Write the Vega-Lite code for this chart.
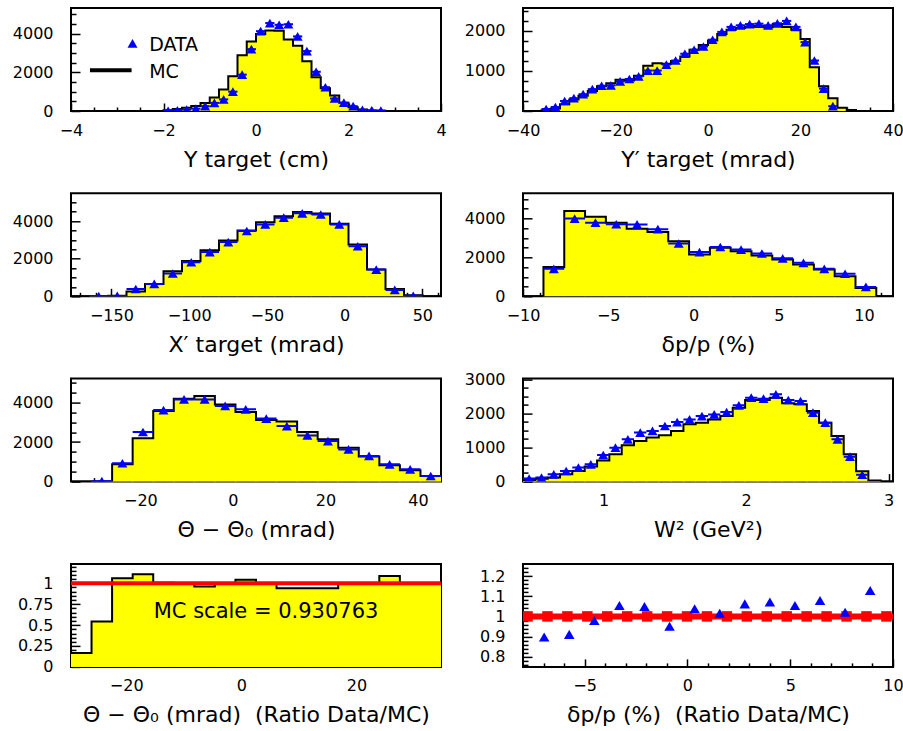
{
"$schema": "https://vega.github.io/schema/vega-lite/v6.json",
"background": "white",
"autosize": {"type": "pad"},
"padding": {"left": 11, "top": 7, "right": 0, "bottom": 0},
"bounds": "flush",
"columns": 2,
"spacing": {"row": 82.3, "column": 82},
"datasets": {
"p1": [
{"a":-2.2,"b":-2.0,"c":-2.1,"mc":0,"d":null},
{"a":-2.0,"b":-1.8,"c":-1.9,"mc":40,"d":15},
{"a":-1.8,"b":-1.6,"c":-1.7,"mc":100,"d":40},
{"a":-1.6,"b":-1.4,"c":-1.5,"mc":170,"d":70},
{"a":-1.4,"b":-1.2,"c":-1.3,"mc":260,"d":120},
{"a":-1.2,"b":-1.0,"c":-1.1,"mc":415,"d":250},
{"a":-1.0,"b":-0.8,"c":-0.9,"mc":700,"d":420},
{"a":-0.8,"b":-0.6,"c":-0.7,"mc":1110,"d":600},
{"a":-0.6,"b":-0.4,"c":-0.5,"mc":1800,"d":1000},
{"a":-0.4,"b":-0.2,"c":-0.3,"mc":2880,"d":1880},
{"a":-0.2,"b":0,"c":-0.1,"mc":3600,"d":3200},
{"a":0,"b":0.2,"c":0.1,"mc":3980,"d":4130},
{"a":0.2,"b":0.4,"c":0.3,"mc":4160,"d":4550},
{"a":0.4,"b":0.6,"c":0.5,"mc":4150,"d":4460},
{"a":0.6,"b":0.8,"c":0.7,"mc":3700,"d":4490},
{"a":0.8,"b":1.0,"c":0.9,"mc":3380,"d":3860},
{"a":1.0,"b":1.2,"c":1.1,"mc":2580,"d":3100},
{"a":1.2,"b":1.4,"c":1.3,"mc":1750,"d":2030},
{"a":1.4,"b":1.6,"c":1.5,"mc":1180,"d":1230},
{"a":1.6,"b":1.8,"c":1.7,"mc":800,"d":645},
{"a":1.8,"b":2.0,"c":1.9,"mc":430,"d":430},
{"a":2.0,"b":2.2,"c":2.1,"mc":200,"d":250},
{"a":2.2,"b":2.4,"c":2.3,"mc":80,"d":60},
{"a":2.4,"b":2.6,"c":2.5,"mc":30,"d":30},
{"a":2.6,"b":2.8,"c":2.7,"mc":10,"d":20},
{"a":2.8,"b":3.0,"c":2.9,"mc":0,"d":null}
],
"p2": [
{"a":-38,"b":-36,"c":-37,"mc":0,"d":null},
{"a":-36,"b":-34,"c":-35,"mc":20,"d":50},
{"a":-34,"b":-32,"c":-33,"mc":60,"d":100},
{"a":-32,"b":-30,"c":-31,"mc":170,"d":250},
{"a":-30,"b":-28,"c":-29,"mc":290,"d":320},
{"a":-28,"b":-26,"c":-27,"mc":380,"d":420},
{"a":-26,"b":-24,"c":-25,"mc":500,"d":546},
{"a":-24,"b":-22,"c":-23,"mc":620,"d":630},
{"a":-22,"b":-20,"c":-21,"mc":690,"d":640},
{"a":-20,"b":-18,"c":-19,"mc":780,"d":740},
{"a":-18,"b":-16,"c":-17,"mc":760,"d":800},
{"a":-16,"b":-14,"c":-15,"mc":880,"d":865},
{"a":-14,"b":-12,"c":-13,"mc":1130,"d":1010},
{"a":-12,"b":-10,"c":-11,"mc":1190,"d":1010},
{"a":-10,"b":-8,"c":-9,"mc":1180,"d":1160},
{"a":-8,"b":-6,"c":-7,"mc":1250,"d":1260},
{"a":-6,"b":-4,"c":-5,"mc":1360,"d":1430},
{"a":-4,"b":-2,"c":-3,"mc":1530,"d":1530},
{"a":-2,"b":0,"c":-1,"mc":1650,"d":1610},
{"a":0,"b":2,"c":1,"mc":1760,"d":1780},
{"a":2,"b":4,"c":3,"mc":1920,"d":1975},
{"a":4,"b":6,"c":5,"mc":2030,"d":2100},
{"a":6,"b":8,"c":7,"mc":2070,"d":2140},
{"a":8,"b":10,"c":9,"mc":2110,"d":2170},
{"a":10,"b":12,"c":11,"mc":2120,"d":2180},
{"a":12,"b":14,"c":13,"mc":2090,"d":2140},
{"a":14,"b":16,"c":15,"mc":2170,"d":2190},
{"a":16,"b":18,"c":17,"mc":2100,"d":2250},
{"a":18,"b":20,"c":19,"mc":2030,"d":2100},
{"a":20,"b":22,"c":21,"mc":1800,"d":1720},
{"a":22,"b":24,"c":23,"mc":1090,"d":1260},
{"a":24,"b":26,"c":25,"mc":620,"d":560},
{"a":26,"b":28,"c":27,"mc":320,"d":120},
{"a":28,"b":30,"c":29,"mc":84,"d":null},
{"a":30,"b":32,"c":31,"mc":25,"d":null},
{"a":32,"b":34,"c":33,"mc":0,"d":null}
],
"p3": [
{"a":-176,"b":-164.1,"c":-170.05,"mc":0,"d":null},
{"a":-164.1,"b":-152.2,"c":-158.15,"mc":5,"d":10},
{"a":-152.2,"b":-140.3,"c":-146.25,"mc":30,"d":20},
{"a":-140.3,"b":-128.4,"c":-134.35,"mc":260,"d":390},
{"a":-128.4,"b":-116.5,"c":-122.45,"mc":660,"d":660},
{"a":-116.5,"b":-104.6,"c":-110.55,"mc":1330,"d":1210},
{"a":-104.6,"b":-92.7,"c":-98.65,"mc":1870,"d":1810},
{"a":-92.7,"b":-80.8,"c":-86.75,"mc":2450,"d":2350},
{"a":-80.8,"b":-68.9,"c":-74.85,"mc":2970,"d":2880},
{"a":-68.9,"b":-57,"c":-62.95,"mc":3500,"d":3470},
{"a":-57,"b":-45.1,"c":-51.05,"mc":3940,"d":3820},
{"a":-45.1,"b":-33.2,"c":-39.15,"mc":4260,"d":4180},
{"a":-33.2,"b":-21.3,"c":-27.25,"mc":4480,"d":4410},
{"a":-21.3,"b":-9.4,"c":-15.35,"mc":4400,"d":4350},
{"a":-9.4,"b":2.5,"c":-3.45,"mc":3860,"d":3820},
{"a":2.5,"b":14.4,"c":8.45,"mc":2760,"d":2660},
{"a":14.4,"b":26.3,"c":20.35,"mc":1420,"d":1420},
{"a":26.3,"b":38.2,"c":32.25,"mc":390,"d":340},
{"a":38.2,"b":50.1,"c":44.15,"mc":60,"d":30},
{"a":50.1,"b":62,"c":56.05,"mc":0,"d":null}
],
"p4": [
{"a":-10.02,"b":-8.8,"c":-9.41,"mc":0,"d":null},
{"a":-8.8,"b":-7.58,"c":-8.19,"mc":1510,"d":1410},
{"a":-7.58,"b":-6.36,"c":-6.97,"mc":4380,"d":3990},
{"a":-6.36,"b":-5.14,"c":-5.75,"mc":4090,"d":3780},
{"a":-5.14,"b":-3.92,"c":-4.53,"mc":3780,"d":3700},
{"a":-3.92,"b":-2.7,"c":-3.31,"mc":3470,"d":3690},
{"a":-2.7,"b":-1.48,"c":-2.09,"mc":3300,"d":3450},
{"a":-1.48,"b":-0.26,"c":-0.87,"mc":2830,"d":2710},
{"a":-0.26,"b":0.96,"c":0.35,"mc":2150,"d":2270},
{"a":0.96,"b":2.18,"c":1.57,"mc":2490,"d":2530},
{"a":2.18,"b":3.4,"c":2.79,"mc":2320,"d":2400},
{"a":3.4,"b":4.62,"c":4.01,"mc":2100,"d":2200},
{"a":4.62,"b":5.84,"c":5.23,"mc":1890,"d":1950},
{"a":5.84,"b":7.06,"c":6.45,"mc":1630,"d":1720},
{"a":7.06,"b":8.28,"c":7.67,"mc":1380,"d":1410},
{"a":8.28,"b":9.5,"c":8.89,"mc":1030,"d":1160},
{"a":9.5,"b":10.72,"c":10.11,"mc":430,"d":480},
{"a":10.72,"b":11.94,"c":11.33,"mc":0,"d":null}
],
"p5": [
{"a":-35,"b":-30.56,"c":-32.78,"mc":0,"d":null},
{"a":-30.56,"b":-26.11,"c":-28.33,"mc":10,"d":20},
{"a":-26.11,"b":-21.67,"c":-23.89,"mc":875,"d":930},
{"a":-21.67,"b":-17.22,"c":-19.44,"mc":2190,"d":2510},
{"a":-17.22,"b":-12.78,"c":-15,"mc":3570,"d":3620},
{"a":-12.78,"b":-8.33,"c":-10.56,"mc":4200,"d":4160},
{"a":-8.33,"b":-3.89,"c":-6.11,"mc":4330,"d":4160},
{"a":-3.89,"b":0.56,"c":-1.67,"mc":3910,"d":3830},
{"a":0.56,"b":5,"c":2.78,"mc":3520,"d":3660},
{"a":5,"b":9.44,"c":7.22,"mc":3120,"d":3190},
{"a":9.44,"b":13.89,"c":11.67,"mc":3040,"d":2810},
{"a":13.89,"b":18.33,"c":16.11,"mc":2510,"d":2340},
{"a":18.33,"b":22.78,"c":20.56,"mc":2140,"d":2050},
{"a":22.78,"b":27.22,"c":25,"mc":1720,"d":1630},
{"a":27.22,"b":31.67,"c":29.44,"mc":1265,"d":1300},
{"a":31.67,"b":36.11,"c":33.89,"mc":825,"d":875},
{"a":36.11,"b":40.56,"c":38.33,"mc":572,"d":620},
{"a":40.56,"b":45,"c":42.78,"mc":283,"d":283}
],
"p6": [
{"a":0.434,"b":0.521,"c":0.477,"mc":50,"d":88},
{"a":0.521,"b":0.607,"c":0.564,"mc":80,"d":117},
{"a":0.607,"b":0.694,"c":0.65,"mc":117,"d":214},
{"a":0.694,"b":0.78,"c":0.737,"mc":214,"d":311},
{"a":0.78,"b":0.867,"c":0.823,"mc":311,"d":410},
{"a":0.867,"b":0.954,"c":0.91,"mc":440,"d":507},
{"a":0.954,"b":1.04,"c":0.997,"mc":620,"d":780},
{"a":1.04,"b":1.127,"c":1.083,"mc":800,"d":996},
{"a":1.127,"b":1.213,"c":1.17,"mc":1066,"d":1239},
{"a":1.213,"b":1.3,"c":1.257,"mc":1193,"d":1436},
{"a":1.3,"b":1.387,"c":1.343,"mc":1290,"d":1485},
{"a":1.387,"b":1.473,"c":1.43,"mc":1357,"d":1629},
{"a":1.473,"b":1.56,"c":1.516,"mc":1485,"d":1746},
{"a":1.56,"b":1.646,"c":1.603,"mc":1680,"d":1824},
{"a":1.646,"b":1.733,"c":1.69,"mc":1727,"d":1922},
{"a":1.733,"b":1.819,"c":1.776,"mc":1824,"d":1971},
{"a":1.819,"b":1.906,"c":1.863,"mc":1922,"d":2039},
{"a":1.906,"b":1.993,"c":1.949,"mc":2168,"d":2236},
{"a":1.993,"b":2.079,"c":2.036,"mc":2393,"d":2461},
{"a":2.079,"b":2.166,"c":2.122,"mc":2393,"d":2432},
{"a":2.166,"b":2.252,"c":2.209,"mc":2461,"d":2558},
{"a":2.252,"b":2.339,"c":2.296,"mc":2295,"d":2393},
{"a":2.339,"b":2.426,"c":2.382,"mc":2266,"d":2363},
{"a":2.426,"b":2.512,"c":2.469,"mc":2070,"d":2021},
{"a":2.512,"b":2.599,"c":2.556,"mc":1727,"d":1727},
{"a":2.599,"b":2.685,"c":2.642,"mc":1336,"d":1239},
{"a":2.685,"b":2.772,"c":2.729,"mc":800,"d":732},
{"a":2.772,"b":2.858,"c":2.815,"mc":300,"d":200},
{"a":2.858,"b":2.945,"c":2.902,"mc":30,"d":null},
{"a":2.945,"b":3.031,"c":2.988,"mc":0,"d":null}
],
"p7": [
{"a":-29.6,"b":-26.03,"r":0.167},
{"a":-26.03,"b":-22.46,"r":0.543},
{"a":-22.46,"b":-18.88,"r":1.06},
{"a":-18.88,"b":-15.31,"r":1.107},
{"a":-15.31,"b":-11.74,"r":1.005},
{"a":-11.74,"b":-8.17,"r":0.995},
{"a":-8.17,"b":-4.6,"r":0.96},
{"a":-4.6,"b":-1.02,"r":0.99},
{"a":-1.02,"b":2.55,"r":1.04},
{"a":2.55,"b":6.12,"r":1.0},
{"a":6.12,"b":9.69,"r":0.94},
{"a":9.69,"b":13.26,"r":0.94},
{"a":13.26,"b":16.84,"r":0.94},
{"a":16.84,"b":20.41,"r":1.0},
{"a":20.41,"b":23.98,"r":0.995},
{"a":23.98,"b":27.55,"r":1.087},
{"a":27.55,"b":31.12,"r":1.0},
{"a":31.12,"b":34.7,"r":1.0}
],
"p8": [
{"c":-6.97,"r":0.898},
{"c":-5.75,"r":0.911},
{"c":-4.53,"r":0.98},
{"c":-3.31,"r":1.054},
{"c":-2.09,"r":1.049},
{"c":-0.87,"r":0.951},
{"c":0.35,"r":1.038},
{"c":1.57,"r":1.016},
{"c":2.79,"r":1.062},
{"c":4.01,"r":1.071},
{"c":5.23,"r":1.054},
{"c":6.45,"r":1.079},
{"c":7.67,"r":1.021},
{"c":8.89,"r":1.128}
],
"p8sq": [
{"x":-7.78,"v":1},{"x":-6.81,"v":1},{"x":-5.84,"v":1},{"x":-4.87,"v":1},{"x":-3.9,"v":1},
{"x":-2.93,"v":1},{"x":-1.96,"v":1},{"x":-0.99,"v":1},{"x":-0.02,"v":1},{"x":0.95,"v":1},
{"x":1.92,"v":1},{"x":2.89,"v":1},{"x":3.86,"v":1},{"x":4.83,"v":1},{"x":5.8,"v":1},
{"x":6.77,"v":1},{"x":7.74,"v":1},{"x":8.71,"v":1},{"x":9.68,"v":1}
],
"one": [{"v":1}],
"p7txt": [{"x":4.3,"y":0.65,"t":"MC scale = 0.930763"}],
"legtri": [{"x":-2.67,"y":3500}],
"legtxt": [{"x":-2.31,"y":3420,"t":"DATA"},{"x":-2.31,"y":2030,"t":"MC"}],
"legline": [{"x0":-3.59,"x1":-2.69,"y":2110}]
},
"concat": [
{"width":370,"height":103,
"resolve":{"axis":{"x":"independent","y":"independent"}},
"layer":[
{"data":{"name":"p1"},"transform":[{"filter":"datum.mc > 0"}],"mark":{"type":"rect","color":"#ffff00","stroke":"#ffff00","strokeWidth":1,"clip":true},
"encoding":{"x":{"field":"a","type":"quantitative","scale":{"domain":[-4,4],"nice":false,"zero":false},"axis":{"orient":"bottom","values":[-4,-2,0,2,4],"tickSize":-8,"labelPadding":19,"title":"Y target (cm)","titlePadding":11}},"x2":{"field":"b"},
"y":{"field":"mc","type":"quantitative","scale":{"domain":[0,5330],"nice":false,"zero":false},"axis":{"orient":"left","values":[0,2000,4000],"tickSize":-9,"labelPadding":27,"title":null}},"y2":{"datum":0}}},
{"data":{"name":"p1"},"transform":[{"fold":["a","b"],"as":["edge","ex"]}],"mark":{"type":"line","color":"black","strokeWidth":2,"clip":true},
"encoding":{"x":{"field":"ex","type":"quantitative","scale":{"domain":[-4,4],"nice":false,"zero":false},"axis":{"orient":"bottom","values":[-3.5,-3,-2.5,-1.5,-1,-0.5,0.5,1,1.5,2.5,3,3.5],"tickSize":-4,"labels":false,"title":null}},
"y":{"field":"mc","type":"quantitative","scale":{"domain":[0,5330],"nice":false,"zero":false},"axis":{"orient":"left","values":[500,1000,1500,2500,3000,3500,4500,5000],"tickSize":-5,"labels":false,"title":null}},
"order":[{"field":"ex","type":"quantitative"},{"field":"edge","type":"nominal","sort":"descending"}]}},
{"data":{"name":"p1"},"transform":[{"filter":"datum.d != null"}],"mark":{"type":"rule","color":"#0000ff","strokeWidth":2,"clip":true},
"encoding":{"x":{"field":"a","type":"quantitative","scale":{"domain":[-4,4],"nice":false,"zero":false},"axis":null},"x2":{"field":"b"},"y":{"field":"d","type":"quantitative","scale":{"domain":[0,5330],"nice":false,"zero":false},"axis":null}}},
{"data":{"name":"p1"},"transform":[{"filter":"datum.d != null"}],"mark":{"type":"point","shape":"triangle-up","filled":true,"color":"#0000ff","size":100,"opacity":1,"clip":true},
"encoding":{"x":{"field":"c","type":"quantitative","scale":{"domain":[-4,4],"nice":false,"zero":false},"axis":null},"y":{"field":"d","type":"quantitative","scale":{"domain":[0,5330],"nice":false,"zero":false},"axis":null}}},
{"data":{"name":"legtri"},"mark":{"type":"point","shape":"triangle-up","filled":true,"color":"#0000ff","size":100,"opacity":1},
"encoding":{"x":{"field":"x","type":"quantitative","scale":{"domain":[-4,4],"nice":false,"zero":false},"axis":null},"y":{"field":"y","type":"quantitative","scale":{"domain":[0,5330],"nice":false,"zero":false},"axis":null}}},
{"data":{"name":"legline"},"mark":{"type":"rule","color":"black","strokeWidth":4},
"encoding":{"x":{"field":"x0","type":"quantitative","scale":{"domain":[-4,4],"nice":false,"zero":false},"axis":null},"x2":{"field":"x1"},"y":{"field":"y","type":"quantitative","scale":{"domain":[0,5330],"nice":false,"zero":false},"axis":null}}},
{"data":{"name":"legtxt"},"mark":{"type":"text","align":"left","baseline":"middle","fontSize":19,"font":"DejaVu Sans","color":"black"},
"encoding":{"x":{"field":"x","type":"quantitative","scale":{"domain":[-4,4],"nice":false,"zero":false},"axis":null},"y":{"field":"y","type":"quantitative","scale":{"domain":[0,5330],"nice":false,"zero":false},"axis":null},"text":{"field":"t"}}}
]},
{"width":370,"height":103,
"resolve":{"axis":{"x":"independent","y":"independent"}},
"layer":[
{"data":{"name":"p2"},"transform":[{"filter":"datum.mc > 0"}],"mark":{"type":"rect","color":"#ffff00","stroke":"#ffff00","strokeWidth":1,"clip":true},
"encoding":{"x":{"field":"a","type":"quantitative","scale":{"domain":[-40,40],"nice":false,"zero":false},"axis":{"orient":"bottom","values":[-40,-20,0,20,40],"tickSize":-8,"labelPadding":19,"title":"Y′ target (mrad)","titlePadding":11}},"x2":{"field":"b"},
"y":{"field":"mc","type":"quantitative","scale":{"domain":[0,2572],"nice":false,"zero":false},"axis":{"orient":"left","values":[0,1000,2000],"tickSize":-9,"labelPadding":27,"title":null}},"y2":{"datum":0}}},
{"data":{"name":"p2"},"transform":[{"fold":["a","b"],"as":["edge","ex"]}],"mark":{"type":"line","color":"black","strokeWidth":2,"clip":true},
"encoding":{"x":{"field":"ex","type":"quantitative","scale":{"domain":[-40,40],"nice":false,"zero":false},"axis":{"orient":"bottom","values":[-35,-30,-25,-15,-10,-5,5,10,15,25,30,35],"tickSize":-4,"labels":false,"title":null}},
"y":{"field":"mc","type":"quantitative","scale":{"domain":[0,2572],"nice":false,"zero":false},"axis":{"orient":"left","values":[250,500,750,1250,1500,1750,2250,2500],"tickSize":-5,"labels":false,"title":null}},
"order":[{"field":"ex","type":"quantitative"},{"field":"edge","type":"nominal","sort":"descending"}]}},
{"data":{"name":"p2"},"transform":[{"filter":"datum.d != null"}],"mark":{"type":"rule","color":"#0000ff","strokeWidth":2,"clip":true},
"encoding":{"x":{"field":"a","type":"quantitative","scale":{"domain":[-40,40],"nice":false,"zero":false},"axis":null},"x2":{"field":"b"},"y":{"field":"d","type":"quantitative","scale":{"domain":[0,2572],"nice":false,"zero":false},"axis":null}}},
{"data":{"name":"p2"},"transform":[{"filter":"datum.d != null"}],"mark":{"type":"point","shape":"triangle-up","filled":true,"color":"#0000ff","size":100,"opacity":1,"clip":true},
"encoding":{"x":{"field":"c","type":"quantitative","scale":{"domain":[-40,40],"nice":false,"zero":false},"axis":null},"y":{"field":"d","type":"quantitative","scale":{"domain":[0,2572],"nice":false,"zero":false},"axis":null}}}
]},
{"width":370,"height":103,
"resolve":{"axis":{"x":"independent","y":"independent"}},
"layer":[
{"data":{"name":"p3"},"transform":[{"filter":"datum.mc > 0"}],"mark":{"type":"rect","color":"#ffff00","stroke":"#ffff00","strokeWidth":1,"clip":true},
"encoding":{"x":{"field":"a","type":"quantitative","scale":{"domain":[-176,62],"nice":false,"zero":false},"axis":{"orient":"bottom","values":[-150,-100,-50,0,50],"tickSize":-8,"labelPadding":19,"title":"X′ target (mrad)","titlePadding":11}},"x2":{"field":"b"},
"y":{"field":"mc","type":"quantitative","scale":{"domain":[0,5475],"nice":false,"zero":false},"axis":{"orient":"left","values":[0,2000,4000],"tickSize":-9,"labelPadding":27,"title":null}},"y2":{"datum":0}}},
{"data":{"name":"p3"},"transform":[{"fold":["a","b"],"as":["edge","ex"]}],"mark":{"type":"line","color":"black","strokeWidth":2,"clip":true},
"encoding":{"x":{"field":"ex","type":"quantitative","scale":{"domain":[-176,62],"nice":false,"zero":false},"axis":{"orient":"bottom","values":[-170,-160,-140,-130,-120,-110,-90,-80,-70,-60,-40,-30,-20,-10,10,20,30,40,60],"tickSize":-4,"labels":false,"title":null}},
"y":{"field":"mc","type":"quantitative","scale":{"domain":[0,5475],"nice":false,"zero":false},"axis":{"orient":"left","values":[500,1000,1500,2500,3000,3500,4500,5000],"tickSize":-5,"labels":false,"title":null}},
"order":[{"field":"ex","type":"quantitative"},{"field":"edge","type":"nominal","sort":"descending"}]}},
{"data":{"name":"p3"},"transform":[{"filter":"datum.d != null"}],"mark":{"type":"rule","color":"#0000ff","strokeWidth":2,"clip":true},
"encoding":{"x":{"field":"a","type":"quantitative","scale":{"domain":[-176,62],"nice":false,"zero":false},"axis":null},"x2":{"field":"b"},"y":{"field":"d","type":"quantitative","scale":{"domain":[0,5475],"nice":false,"zero":false},"axis":null}}},
{"data":{"name":"p3"},"transform":[{"filter":"datum.d != null"}],"mark":{"type":"point","shape":"triangle-up","filled":true,"color":"#0000ff","size":100,"opacity":1,"clip":true},
"encoding":{"x":{"field":"c","type":"quantitative","scale":{"domain":[-176,62],"nice":false,"zero":false},"axis":null},"y":{"field":"d","type":"quantitative","scale":{"domain":[0,5475],"nice":false,"zero":false},"axis":null}}}
]},
{"width":370,"height":103,
"resolve":{"axis":{"x":"independent","y":"independent"}},
"layer":[
{"data":{"name":"p4"},"transform":[{"filter":"datum.mc > 0"}],"mark":{"type":"rect","color":"#ffff00","stroke":"#ffff00","strokeWidth":1,"clip":true},
"encoding":{"x":{"field":"a","type":"quantitative","scale":{"domain":[-10,11.7],"nice":false,"zero":false},"axis":{"orient":"bottom","values":[-10,-5,0,5,10],"tickSize":-8,"labelPadding":19,"title":"δp/p (%)","titlePadding":11}},"x2":{"field":"b"},
"y":{"field":"mc","type":"quantitative","scale":{"domain":[0,5290],"nice":false,"zero":false},"axis":{"orient":"left","values":[0,2000,4000],"tickSize":-9,"labelPadding":27,"title":null}},"y2":{"datum":0}}},
{"data":{"name":"p4"},"transform":[{"fold":["a","b"],"as":["edge","ex"]}],"mark":{"type":"line","color":"black","strokeWidth":2,"clip":true},
"encoding":{"x":{"field":"ex","type":"quantitative","scale":{"domain":[-10,11.7],"nice":false,"zero":false},"axis":{"orient":"bottom","values":[-9,-8,-7,-6,-4,-3,-2,-1,1,2,3,4,6,7,8,9,11],"tickSize":-4,"labels":false,"title":null}},
"y":{"field":"mc","type":"quantitative","scale":{"domain":[0,5290],"nice":false,"zero":false},"axis":{"orient":"left","values":[500,1000,1500,2500,3000,3500,4500,5000],"tickSize":-5,"labels":false,"title":null}},
"order":[{"field":"ex","type":"quantitative"},{"field":"edge","type":"nominal","sort":"descending"}]}},
{"data":{"name":"p4"},"transform":[{"filter":"datum.d != null"}],"mark":{"type":"rule","color":"#0000ff","strokeWidth":2,"clip":true},
"encoding":{"x":{"field":"a","type":"quantitative","scale":{"domain":[-10,11.7],"nice":false,"zero":false},"axis":null},"x2":{"field":"b"},"y":{"field":"d","type":"quantitative","scale":{"domain":[0,5290],"nice":false,"zero":false},"axis":null}}},
{"data":{"name":"p4"},"transform":[{"filter":"datum.d != null"}],"mark":{"type":"point","shape":"triangle-up","filled":true,"color":"#0000ff","size":100,"opacity":1,"clip":true},
"encoding":{"x":{"field":"c","type":"quantitative","scale":{"domain":[-10,11.7],"nice":false,"zero":false},"axis":null},"y":{"field":"d","type":"quantitative","scale":{"domain":[0,5290],"nice":false,"zero":false},"axis":null}}}
]},
{"width":370,"height":103,
"resolve":{"axis":{"x":"independent","y":"independent"}},
"layer":[
{"data":{"name":"p5"},"transform":[{"filter":"datum.mc > 0"}],"mark":{"type":"rect","color":"#ffff00","stroke":"#ffff00","strokeWidth":1,"clip":true},
"encoding":{"x":{"field":"a","type":"quantitative","scale":{"domain":[-35,45],"nice":false,"zero":false},"axis":{"orient":"bottom","values":[-20,0,20,40],"tickSize":-8,"labelPadding":19,"title":"Θ − Θ₀ (mrad)","titlePadding":11}},"x2":{"field":"b"},
"y":{"field":"mc","type":"quantitative","scale":{"domain":[0,5215],"nice":false,"zero":false},"axis":{"orient":"left","values":[0,2000,4000],"tickSize":-9,"labelPadding":27,"title":null}},"y2":{"datum":0}}},
{"data":{"name":"p5"},"transform":[{"fold":["a","b"],"as":["edge","ex"]}],"mark":{"type":"line","color":"black","strokeWidth":2,"clip":true},
"encoding":{"x":{"field":"ex","type":"quantitative","scale":{"domain":[-35,45],"nice":false,"zero":false},"axis":{"orient":"bottom","values":[-30,-25,-15,-10,-5,5,10,15,25,30,35],"tickSize":-4,"labels":false,"title":null}},
"y":{"field":"mc","type":"quantitative","scale":{"domain":[0,5215],"nice":false,"zero":false},"axis":{"orient":"left","values":[500,1000,1500,2500,3000,3500,4500,5000],"tickSize":-5,"labels":false,"title":null}},
"order":[{"field":"ex","type":"quantitative"},{"field":"edge","type":"nominal","sort":"descending"}]}},
{"data":{"name":"p5"},"transform":[{"filter":"datum.d != null"}],"mark":{"type":"rule","color":"#0000ff","strokeWidth":2,"clip":true},
"encoding":{"x":{"field":"a","type":"quantitative","scale":{"domain":[-35,45],"nice":false,"zero":false},"axis":null},"x2":{"field":"b"},"y":{"field":"d","type":"quantitative","scale":{"domain":[0,5215],"nice":false,"zero":false},"axis":null}}},
{"data":{"name":"p5"},"transform":[{"filter":"datum.d != null"}],"mark":{"type":"point","shape":"triangle-up","filled":true,"color":"#0000ff","size":100,"opacity":1,"clip":true},
"encoding":{"x":{"field":"c","type":"quantitative","scale":{"domain":[-35,45],"nice":false,"zero":false},"axis":null},"y":{"field":"d","type":"quantitative","scale":{"domain":[0,5215],"nice":false,"zero":false},"axis":null}}}
]},
{"width":370,"height":103,
"resolve":{"axis":{"x":"independent","y":"independent"}},
"layer":[
{"data":{"name":"p6"},"transform":[{"filter":"datum.mc > 0"}],"mark":{"type":"rect","color":"#ffff00","stroke":"#ffff00","strokeWidth":1,"clip":true},
"encoding":{"x":{"field":"a","type":"quantitative","scale":{"domain":[0.434,3.031],"nice":false,"zero":false},"axis":{"orient":"bottom","values":[1,2,3],"tickSize":-8,"labelPadding":19,"title":"W² (GeV²)","titlePadding":11}},"x2":{"field":"b"},
"y":{"field":"mc","type":"quantitative","scale":{"domain":[0,3020],"nice":false,"zero":false},"axis":{"orient":"left","values":[0,1000,2000,3000],"tickSize":-9,"labelPadding":27,"title":null}},"y2":{"datum":0}}},
{"data":{"name":"p6"},"transform":[{"fold":["a","b"],"as":["edge","ex"]}],"mark":{"type":"line","color":"black","strokeWidth":2,"clip":true},
"encoding":{"x":{"field":"ex","type":"quantitative","scale":{"domain":[0.434,3.031],"nice":false,"zero":false},"axis":{"orient":"bottom","values":[0.6,0.8,1.2,1.4,1.6,1.8,2.2,2.4,2.6,2.8],"tickSize":-4,"labels":false,"title":null}},
"y":{"field":"mc","type":"quantitative","scale":{"domain":[0,3020],"nice":false,"zero":false},"axis":{"orient":"left","values":[250,500,750,1250,1500,1750,2250,2500,2750],"tickSize":-5,"labels":false,"title":null}},
"order":[{"field":"ex","type":"quantitative"},{"field":"edge","type":"nominal","sort":"descending"}]}},
{"data":{"name":"p6"},"transform":[{"filter":"datum.d != null"}],"mark":{"type":"rule","color":"#0000ff","strokeWidth":2,"clip":true},
"encoding":{"x":{"field":"a","type":"quantitative","scale":{"domain":[0.434,3.031],"nice":false,"zero":false},"axis":null},"x2":{"field":"b"},"y":{"field":"d","type":"quantitative","scale":{"domain":[0,3020],"nice":false,"zero":false},"axis":null}}},
{"data":{"name":"p6"},"transform":[{"filter":"datum.d != null"}],"mark":{"type":"point","shape":"triangle-up","filled":true,"color":"#0000ff","size":100,"opacity":1,"clip":true},
"encoding":{"x":{"field":"c","type":"quantitative","scale":{"domain":[0.434,3.031],"nice":false,"zero":false},"axis":null},"y":{"field":"d","type":"quantitative","scale":{"domain":[0,3020],"nice":false,"zero":false},"axis":null}}}
]},
{"width":370,"height":103,
"resolve":{"axis":{"x":"independent","y":"independent"}},
"layer":[
{"data":{"name":"p7"},"mark":{"type":"rect","color":"#ffff00","stroke":"#ffff00","strokeWidth":1,"clip":true},
"encoding":{"x":{"field":"a","type":"quantitative","scale":{"domain":[-29.6,34.7],"nice":false,"zero":false},"axis":{"orient":"bottom","values":[-20,0,20],"tickSize":-8,"labelPadding":19,"title":"Θ − Θ₀ (mrad) \u00a0(Ratio Data/MC)","titlePadding":11}},"x2":{"field":"b"},
"y":{"field":"r","type":"quantitative","scale":{"domain":[0,1.23],"nice":false,"zero":false},"axis":{"orient":"left","values":[0,0.25,0.5,0.75,1],"format":"~g","tickSize":-9,"labelPadding":27,"title":null}},"y2":{"datum":0}}},
{"data":{"name":"p7"},"transform":[{"fold":["a","b"],"as":["edge","ex"]}],"mark":{"type":"line","color":"black","strokeWidth":2,"clip":true},
"encoding":{"x":{"field":"ex","type":"quantitative","scale":{"domain":[-29.6,34.7],"nice":false,"zero":false},"axis":{"orient":"bottom","values":[-25,-15,-10,-5,5,10,15,25,30],"tickSize":-4,"labels":false,"title":null}},
"y":{"field":"r","type":"quantitative","scale":{"domain":[0,1.23],"nice":false,"zero":false},"axis":{"orient":"left","values":[0.05,0.1,0.15,0.2,0.3,0.35,0.4,0.45,0.55,0.6,0.65,0.7,0.8,0.85,0.9,0.95,1.05,1.1,1.15,1.2],"tickSize":-5,"labels":false,"title":null}},
"order":[{"field":"ex","type":"quantitative"},{"field":"edge","type":"nominal","sort":"descending"}]}},
{"data":{"name":"one"},"mark":{"type":"rule","color":"#ff0000","strokeWidth":4},
"encoding":{"y":{"field":"v","type":"quantitative","scale":{"domain":[0,1.23],"nice":false,"zero":false},"axis":null}}},
{"data":{"name":"p7txt"},"mark":{"type":"text","align":"center","baseline":"middle","fontSize":21,"font":"DejaVu Sans","color":"black"},
"encoding":{"x":{"field":"x","type":"quantitative","scale":{"domain":[-29.6,34.7],"nice":false,"zero":false},"axis":null},"y":{"field":"y","type":"quantitative","scale":{"domain":[0,1.23],"nice":false,"zero":false},"axis":null},"text":{"field":"t"}}}
]},
{"width":370,"height":103,
"resolve":{"axis":{"x":"independent","y":"independent"}},
"layer":[
{"data":{"name":"one"},"mark":{"type":"rule","color":"#ff0000","strokeWidth":6},
"encoding":{"y":{"field":"v","type":"quantitative","scale":{"domain":[0.75,1.26],"nice":false,"zero":false},"axis":null}}},
{"data":{"name":"p8sq"},"mark":{"type":"point","shape":"square","filled":true,"color":"#ff0000","size":110,"opacity":1,"clip":true},
"encoding":{"x":{"field":"x","type":"quantitative","scale":{"domain":[-8,10],"nice":false,"zero":false},"axis":{"orient":"bottom","values":[-7,-6,-4,-3,-2,-1,1,2,3,4,6,7,8,9],"tickSize":-4,"labels":false,"title":null}},
"y":{"field":"v","type":"quantitative","scale":{"domain":[0.75,1.26],"nice":false,"zero":false},"axis":{"orient":"left","values":[0.76,0.78,0.82,0.84,0.86,0.88,0.92,0.94,0.96,0.98,1.02,1.04,1.06,1.08,1.12,1.14,1.16,1.18,1.22,1.24],"tickSize":-5,"labels":false,"title":null}}}},
{"data":{"name":"p8"},"mark":{"type":"point","shape":"triangle-up","filled":true,"color":"#0000ff","size":110,"opacity":1,"clip":true},
"encoding":{"x":{"field":"c","type":"quantitative","scale":{"domain":[-8,10],"nice":false,"zero":false},"axis":{"orient":"bottom","values":[-5,0,5,10],"tickSize":-8,"labelPadding":19,"title":"δp/p (%) \u00a0(Ratio Data/MC)","titlePadding":11}},
"y":{"field":"r","type":"quantitative","scale":{"domain":[0.75,1.26],"nice":false,"zero":false},"axis":{"orient":"left","values":[0.8,0.9,1,1.1,1.2],"format":"~g","tickSize":-9,"labelPadding":27,"title":null}}}}
]}
],
"config": {
"font": "DejaVu Sans",
"view": {"stroke": "black", "strokeWidth": 2},
"axis": {"domain": false, "grid": false, "labelFont": "DejaVu Sans", "labelFontSize": 16, "labelColor": "black", "titleFont": "DejaVu Sans", "titleFontSize": 22, "titleFontWeight": "normal", "titleColor": "black", "tickColor": "black", "tickWidth": 1.5, "labelFlush": false, "labelOverlap": false, "format": "d"}
}
}
